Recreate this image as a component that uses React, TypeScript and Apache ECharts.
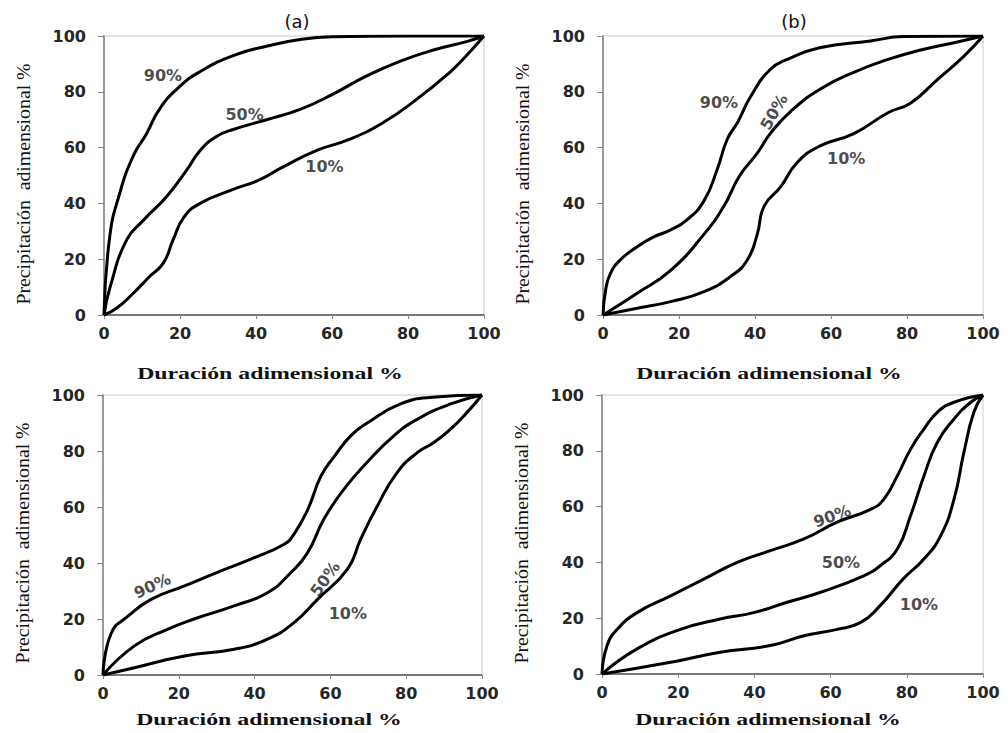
import React, { useEffect, useRef } from "react";
import * as echarts from "echarts";

// ---- data (dimensionless duration %, dimensionless precipitation %) ----
const curveNames = ["90%", "50%", "10%"];
const panelLetters = ["(a)", "(b)"];
const xTitle = "Duración adimensional %";
const yTitle = "Precipitación  adimensional %";

const a90 = [[0,0],[1.5,28],[4,43],[7.7,57],[11.2,65],[14.7,74],[20,82],[25,87],[34,93],[43,96.4],[52,98.8],[60,99.7],[80,100],[100,100]];
const a50 = [[0,0],[1.6,10],[6,27],[10.4,34],[16.5,42.5],[21.8,52],[25.3,59],[29.6,64],[34,66.5],[42.8,70],[51.6,73.7],[60,79],[69,85.6],[78,91],[86.7,95],[95.4,98],[100,100]];
const a10 = [[0,0],[3.3,2.4],[7.7,7.8],[12,13.8],[15.6,18.6],[18.2,27],[21,35],[25.3,40],[34,45],[41,48.5],[47,53],[56,59],[64.7,63],[73.5,69],[82,77],[91,87],[95.4,93],[100,100]];

const b90 = [[0,0],[0.7,9],[2,15],[4.6,19.8],[9,24.5],[13.4,28],[17.8,30.5],[22,34],[26.6,41],[30,52],[32.7,63],[35.4,69],[38.9,78.4],[44,88],[48.5,91.6],[57,95.8],[70.4,98.2],[79,99.8],[100,100]];
const b50 = [[0,0],[9,7.8],[17.8,16],[26.6,29],[31.8,39],[36,50],[40.6,58],[44,65],[49.4,73],[57,80.8],[66,87],[75,91.6],[83.6,95],[92.4,97.6],[100,100]];
const b10 = [[0,0],[9,2.4],[17.8,4.8],[26.6,8.4],[33.6,13.8],[38,19.8],[40.6,29],[42.4,39],[46.8,46],[51,54.5],[57,60.5],[66,65],[75,72.5],[81,76],[88,84.4],[95,92.8],[100,100]];

const c90 = [[0,0],[2.2,15],[6.6,21],[12.7,27],[21.5,31.8],[30,36.6],[39,41.4],[47.8,46.7],[50.4,50.3],[54,59],[57.5,71],[61,78],[65.4,85.5],[69.7,90],[78.5,96.8],[87,99.2],[100,100]];
const c50 = [[0,0],[8.3,10.4],[17,16.3],[24,20],[34.6,24.7],[43.4,29.4],[49.6,36.6],[54,43.7],[58.3,55.7],[63.6,66.4],[69.7,76],[76.8,85.5],[83,91.4],[91.7,96.8],[100,100]];
const c10 = [[0,0],[8.3,2.6],[21.5,6.8],[34.6,9.2],[43.4,12.8],[50.4,18.7],[56.6,27],[64.5,37.8],[68,48.5],[72.4,60.4],[77.6,72.3],[83,79.5],[87.3,83],[91.7,87.8],[96,93.7],[100,100]];

const d90 = [[0,0],[1.3,10],[4,16],[9.2,22],[18,28],[26.7,34],[35.5,40],[44.2,44.2],[53,48.4],[61.7,54.4],[70.5,59],[74,62.7],[77.5,71],[81,80.6],[84.5,87.8],[88,93.8],[92.4,97.4],[100,100]];
const d50 = [[0,0],[9.2,9],[20.6,16],[31,19.7],[39.8,22],[48.6,25.7],[57.4,29.3],[68.7,35.2],[73,38.8],[77.5,44.8],[81,56.8],[84.5,71],[88,83],[92.4,91.4],[96.8,97.4],[100,100]];
const d10 = [[0,0],[18,4.2],[31,7.8],[44.2,10.2],[53,13.7],[61.7,16],[67.9,18.5],[73,24.5],[79,34],[84.5,41.2],[88.9,49.6],[92.4,62.7],[95,79.5],[97.6,93.8],[100,100]];

// curve label anchors: [x, y, rotation°] per curve (90%, 50%, 10%)
const aLab = [[15.5,86,0],[37,71.7,0],[58,53.4,0]];
const bLab = [[30.5,76.3,0],[45,72.8,60],[64,56,0]];
const cLab = [[13,31.8,25],[58.6,34.3,55],[64.6,22,0]];
const dLab = [[60.4,56.6,20],[62.7,39.8,0],[83.2,25,0]];

const panels = [
  { curves: [a90, a50, a10], labels: aLab },
  { curves: [b90, b50, b10], labels: bLab },
  { curves: [c90, c50, c10], labels: cLab },
  { curves: [d90, d50, d10], labels: dLab },
];

const grids = [
  { left: 104, top: 36, width: 380, height: 279 },
  { left: 603, top: 36, width: 380, height: 279 },
  { left: 103, top: 395, width: 379, height: 280 },
  { left: 602, top: 395, width: 381, height: 279 },
];

const tickFont = { fontFamily: "DejaVu Sans", fontSize: 16, fontWeight: "bold" as const, color: "#262626" };

export default function App() {
  const ref = useRef<HTMLDivElement>(null);
  useEffect(() => {
    if (!ref.current) return;
    const chart = echarts.init(ref.current, null, { renderer: "svg" });
    const series: any[] = [];
    panels.forEach((p, i) => {
      p.curves.forEach((c, k) => {
        series.push({
          type: "line",
          name: curveNames[k],
          xAxisIndex: i,
          yAxisIndex: i,
          data: c,
          smooth: 0.5,
          symbol: "none",
          lineStyle: { color: "#000", width: 3 },
          z: 3,
        });
      });
      series.push({
        type: "scatter",
        xAxisIndex: i,
        yAxisIndex: i,
        symbolSize: 1,
        itemStyle: { color: "transparent" },
        z: 5,
        data: p.labels.map((l, k) => ({
          value: [l[0], l[1]],
          name: curveNames[k],
          label: {
            show: true,
            position: "inside",
            rotate: l[2],
            formatter: "{b}",
            fontFamily: "DejaVu Sans",
            fontWeight: "bold",
            fontSize: 16,
            color: "#1a1a1a",
            textBorderWidth: 0,
            textBorderColor: "transparent",
          },
        })),
      });
    });

    const center = { align: "center", verticalAlign: "middle", textAlign: "center", textVerticalAlign: "middle" };
    const graphic: any[] = [];
    panelLetters.forEach((t, i) => {
      graphic.push({
        type: "text",
        x: i === 0 ? 297 : 794,
        y: 21,
        style: { text: t, fontFamily: "DejaVu Sans", fontSize: 18, fill: "#111", ...center },
      });
    });
    grids.forEach((g, i) => {
      graphic.push({
        type: "text",
        x: g.left + 166,
        y: i < 2 ? 373 : 719,
        scaleX: 1.4,
        style: { text: xTitle, fontFamily: "Liberation Serif", fontWeight: "bold", fontSize: 17, fill: "#111", ...center },
      });
      graphic.push({
        type: "text",
        x: g.left - 80,
        y: g.top + 148,
        rotation: Math.PI / 2,
        scaleX: 1.1,
        style: { text: yTitle, fontFamily: "Liberation Serif", fontSize: 18, fill: "#111", ...center },
      });
    });

    chart.setOption({
      animation: false,
      backgroundColor: "#fff",
      grid: grids.map((g) => ({ ...g, show: true, borderColor: "#c8c8c8", borderWidth: 1, backgroundColor: "transparent" })),
      xAxis: grids.map((_, i) => ({
        type: "value",
        gridIndex: i,
        min: 0,
        max: 100,
        interval: 20,
        axisLine: { show: true, onZero: false, lineStyle: { color: "#555", width: 1.5 } },
        axisTick: { show: true, length: 4, lineStyle: { color: "#888" } },
        axisLabel: { margin: 10, ...tickFont },
        splitLine: { show: false },
      })),
      yAxis: grids.map((_, i) => ({
        type: "value",
        gridIndex: i,
        min: 0,
        max: 100,
        interval: 20,
        axisLine: { show: true, onZero: false, lineStyle: { color: "#999", width: 2 } },
        axisTick: { show: true, length: 6, lineStyle: { color: "#888" } },
        axisLabel: { margin: 18, ...tickFont },
        splitLine: { show: false },
      })),
      series,
      graphic,
    });
    return () => chart.dispose();
  }, []);
  return <div ref={ref} style={{ position: "absolute", left: 0, top: 0, width: 1008, height: 733 }} />;
}
